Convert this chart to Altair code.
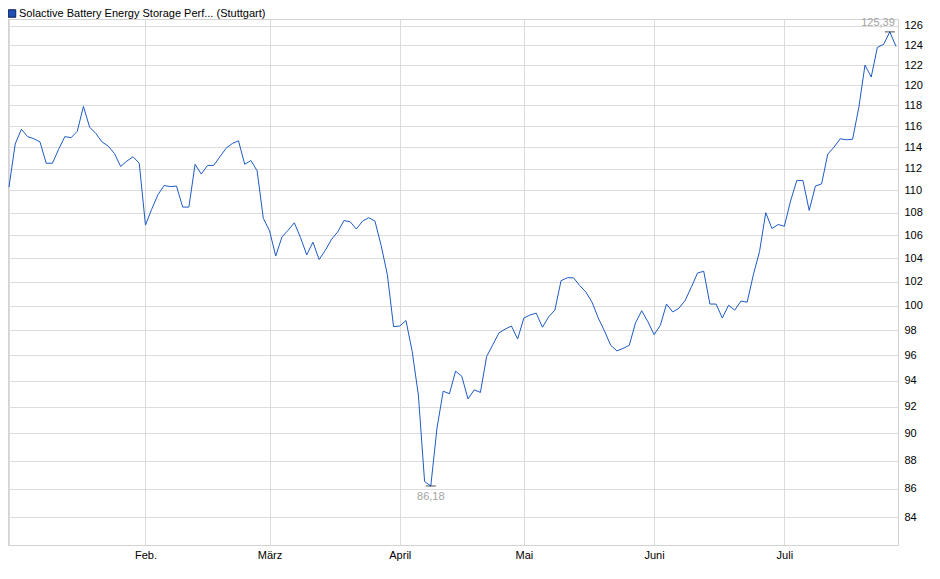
import altair as alt
import pandas as pd

series_name = "Solactive Battery Energy Storage Perf... (Stuttgart)"

# daily closing values (one per trading day, Jan - Jul)
values = [
    110.3, 114.3, 115.7, 115.0, 114.8, 114.5, 112.5, 112.5, 113.8, 115.0,
    114.9, 115.5, 117.9, 115.9, 115.3, 114.5, 114.1, 113.4, 112.2, 112.7,
    113.1, 112.5, 106.9, 108.3, 109.6, 110.45, 110.35, 110.4, 108.5, 108.5,
    112.4, 111.5, 112.3, 112.3, 113.1, 113.9, 114.35, 114.6, 112.4, 112.75,
    111.8, 107.5, 106.4, 104.2, 105.85, 106.45, 107.1, 105.8, 104.3, 105.4,
    103.9, 104.7, 105.65, 106.3, 107.3, 107.2, 106.55, 107.25, 107.55, 107.25,
    105.1, 102.6, 98.3, 98.35, 98.8, 96.3, 92.9, 86.5, 86.18, 90.4,
    93.2, 93.0, 94.75, 94.35, 92.6, 93.3, 93.1, 95.9, 96.85, 97.8,
    98.1, 98.35, 97.3, 99.0, 99.25, 99.4, 98.25, 99.1, 99.65, 102.1,
    102.35, 102.35, 101.7, 101.15, 100.3, 99.0, 97.95, 96.8, 96.35, 96.55,
    96.8, 98.6, 99.6, 98.7, 97.65, 98.4, 100.15, 99.5, 99.8, 100.45,
    101.55, 102.75, 102.9, 100.15, 100.15, 99.0, 100.05, 99.65, 100.4, 100.3,
    102.6, 104.6, 108.0, 106.6, 106.95, 106.8, 109.05, 110.9, 110.9, 108.2,
    110.4, 110.6, 113.35, 114.0, 114.8, 114.7, 114.75, 117.8, 122.0, 120.8,
    123.8, 124.1, 125.39, 123.9,
]

# index of the first trading day of each month
month_starts = [0, 22, 42, 63, 83, 104, 125]
month_labels = ["", "Feb.", "März", "April", "Mai", "Juni", "Juli"]
y_ticks = list(range(84, 127, 2))

df = pd.DataFrame({"i": list(range(len(values))), "v": values})
imax = int(df["v"].idxmax())
imin = int(df["v"].idxmin())
ext = pd.DataFrame({
    "i": [imax, imin],
    "v": [values[imax], values[imin]],
    "label": [f"{values[imax]:.2f}".replace(".", ","), f"{values[imin]:.2f}".replace(".", ",")],
    "kind": ["max", "min"],
})

label_expr = "".join(
    f"datum.value == {m} ? '{l}' : " for m, l in zip(month_starts, month_labels)
) + "''"

FONT = "Liberation Sans"
LINE = "#1d5bc4"

x_scale = alt.Scale(domain=[-0.16, 143.32], nice=False, zero=False)
y_scale = alt.Scale(type="log", domain=[82.081, 126.73], nice=False)

x_axis = alt.Axis(
    values=month_starts, labelExpr=label_expr, grid=True, ticks=False,
    domain=False, labelPadding=4, title=None, labelAngle=0,
    labelFlush=False, labelOverlap=False,
)
y_axis = alt.Axis(
    orient="right", values=y_ticks, format="d", grid=True, ticks=False,
    tickSize=0, domain=False, labelPadding=6, title=None, labelFlush=False,
    labelOverlap=False,
)

base = alt.Chart(df)
line = base.mark_line(color=LINE, strokeWidth=1, clip=True).encode(
    x=alt.X("i:Q", scale=x_scale, axis=x_axis),
    y=alt.Y("v:Q", scale=y_scale, axis=y_axis),
)

ext_base = alt.Chart(ext)
markers = ext_base.mark_tick(orient="horizontal", size=10, thickness=1, color="#000000").encode(
    x="i:Q", y="v:Q"
)
max_text = ext_base.transform_filter(alt.datum.kind == "max").mark_text(
    align="right", baseline="bottom", dx=5, dy=-4, fontSize=11, font=FONT, color="#a3a3a3"
).encode(x="i:Q", y="v:Q", text="label:N")
min_text = ext_base.transform_filter(alt.datum.kind == "min").mark_text(
    align="center", baseline="top", dx=0, dy=5, fontSize=11, font=FONT, color="#a3a3a3"
).encode(x="i:Q", y="v:Q", text="label:N")

leg_df = pd.DataFrame({"name": [series_name]})
leg_sq = alt.Chart(leg_df).mark_square(
    size=56, fill="#1f4fb4", stroke="#0b1e5c", strokeWidth=1, opacity=1, filled=True
).encode(x=alt.value(4), y=alt.value(-5.5))
leg_txt = alt.Chart(leg_df).mark_text(
    align="left", baseline="middle", fontSize=11, font=FONT, color="#000000"
).encode(x=alt.value(11), y=alt.value(-5), text="name:N")

chart = (
    alt.layer(line, markers, max_text, min_text, leg_sq, leg_txt)
    .properties(
        width=890, height=526,
        autosize=alt.AutoSizeParams(type="none"),
        padding={"left": 0, "top": 11, "right": 30, "bottom": 25},
    )
    .configure_view(stroke="#d2d2d2", strokeWidth=1)
    .configure_axis(
        gridColor="#dcdcdc", gridWidth=1, labelFont=FONT, labelFontSize=11,
        labelColor="#000000",
    )
)

chart.save("out.html", embed_options={"renderer": "svg", "actions": False})
